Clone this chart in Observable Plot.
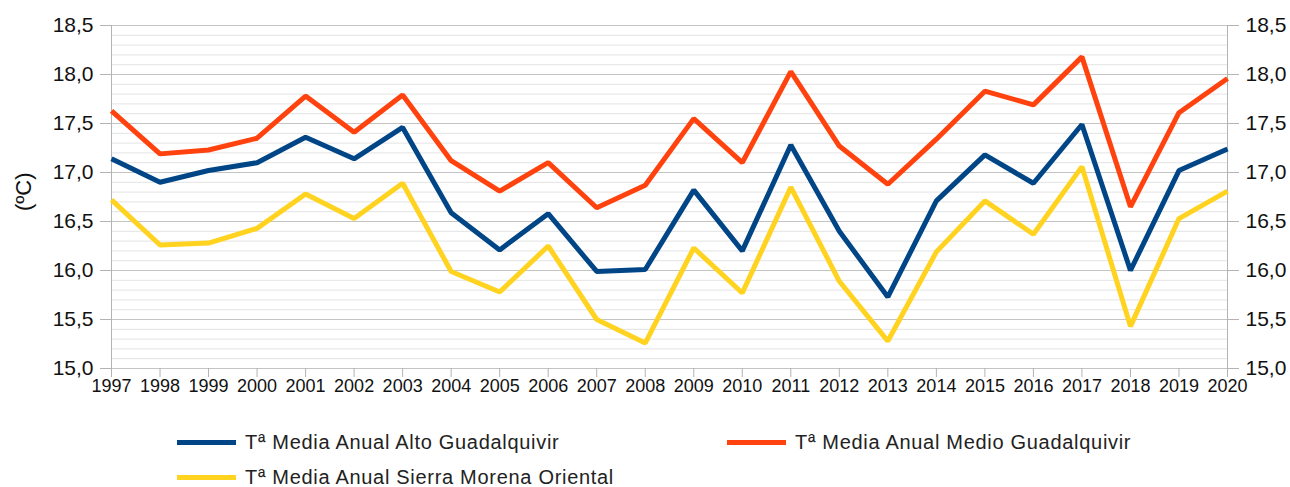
<!DOCTYPE html>
<html>
<head>
<meta charset="utf-8">
<script src="https://cdn.jsdelivr.net/npm/d3@7"></script>
<script src="https://cdn.jsdelivr.net/npm/@observablehq/plot@0.6"></script>
<style>
  html, body { margin: 0; padding: 0; background: #fff; }
  body { width: 1290px; height: 487px; overflow: hidden; font-family: "Liberation Sans", Arial, sans-serif; }
  #legend { position: relative; height: 67px; }
  .item { position: absolute; display: flex; align-items: center; font-size: 20px; color: #222; letter-spacing: 0.7px; }
  .sw { width: 59px; height: 5px; margin-right: 9px; }
</style>
</head>
<body>
<div id="chart"></div>
<div id="legend"></div>
<script>
const years = d3.range(1997, 2021);
const seriesNames = [
  "Tª Media Anual Alto Guadalquivir",
  "Tª Media Anual Medio Guadalquivir",
  "Tª Media Anual Sierra Morena Oriental"
];
const seriesColors = ["#004586", "#ff420e", "#ffd320"];
const alto = [17.14, 16.90, 17.02, 17.10, 17.36, 17.14, 17.46, 16.59, 16.21, 16.58, 15.99, 16.01,
              16.82, 16.20, 17.28, 16.40, 15.73, 16.71, 17.18, 16.89, 17.49, 16.00, 17.02, 17.24];
const medio = [17.63, 17.19, 17.23, 17.35, 17.78, 17.41, 17.79, 17.12, 16.81, 17.10, 16.64, 16.87,
               17.55, 17.10, 18.03, 17.27, 16.88, 17.34, 17.83, 17.69, 18.18, 16.65, 17.61, 17.96];
const sierra = [16.72, 16.26, 16.28, 16.43, 16.78, 16.53, 16.89, 15.99, 15.78, 16.25, 15.50, 15.26,
                16.23, 15.77, 16.85, 15.89, 15.28, 16.19, 16.71, 16.37, 17.06, 15.43, 16.53, 16.81];
const yMajor = [15.0, 15.5, 16.0, 16.5, 17.0, 17.5, 18.0, 18.5];
const yMinor = d3.range(150, 186).map(v => v / 10);
const yLabel = "(ºC)";

const values = [alto, medio, sierra];
const data = [];
values.forEach((arr, i) => arr.forEach((v, j) => data.push({year: years[j], value: v, series: seriesNames[i]})));

const fmt = d => d.toFixed(1).replace(".", ",");

const chart = Plot.plot({
  width: 1290,
  height: 420,
  marginLeft: 111,
  marginRight: 63,
  marginTop: 25,
  marginBottom: 52,
  style: {fontFamily: "Liberation Sans, Arial, sans-serif", color: "#111", background: "#fff"},
  x: {domain: [1997, 2020]},
  y: {domain: [15, 18.5]},
  color: {domain: seriesNames, range: seriesColors},
  marks: [
    Plot.ruleY(yMinor, {stroke: "#e3e3e3", strokeWidth: 1}),
    Plot.ruleY(yMajor, {stroke: "#c4c4c4", strokeWidth: 1}),
    Plot.ruleX([1997, 2020], {stroke: "#b3b3b3", strokeWidth: 1}),
    Plot.axisX({ticks: years, tickFormat: "d", tickSize: 9, tickPadding: 2, stroke: "#b3b3b3", fontSize: 18, label: null, color: "#111"}),
    Plot.axisY({anchor: "left", ticks: yMajor, tickFormat: fmt, tickSize: 11, tickPadding: 7, stroke: "#b3b3b3", fontSize: 21, label: null}),
    Plot.axisY({anchor: "right", ticks: yMajor, tickFormat: fmt, tickSize: 11, tickPadding: 7, stroke: "#b3b3b3", fontSize: 21, label: null}),
    Plot.text([yLabel], {frameAnchor: "left", dx: -88, dy: 14, rotate: -90, fontSize: 22, fill: "#111"}),
    Plot.line(data, {x: "year", y: "value", z: "series", stroke: "series", strokeWidth: 5, strokeLinejoin: "miter", strokeLinecap: "butt"})
  ]
});
document.getElementById("chart").appendChild(chart);

const legend = document.getElementById("legend");
const pos = [[177, 24], [727, 24], [177, 59]];
seriesNames.forEach((name, i) => {
  const div = document.createElement("div");
  div.className = "item";
  div.style.left = pos[i][0] + "px";
  div.style.top = (pos[i][1] - 13) + "px";
  div.innerHTML = `<span class="sw" style="background:${seriesColors[i]}"></span><span>${name}</span>`;
  legend.appendChild(div);
});
</script>
</body>
</html>
